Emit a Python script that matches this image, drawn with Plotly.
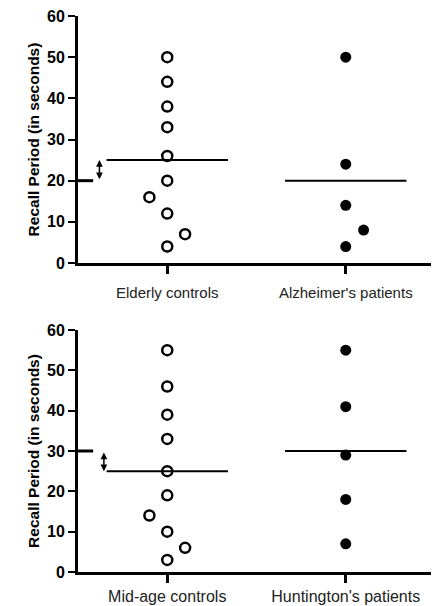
import plotly.graph_objects as go

# ---- data ----
top_categories = ["Elderly controls", "Alzheimer's patients"]
elderly_controls = [50, 44, 38, 33, 26, 20, 16, 12, 7, 4]
alzheimers_patients = [50, 24, 14, 8, 4]

bottom_categories = ["Mid-age controls", "Huntington's patients"]
midage_controls = [55, 46, 39, 33, 25, 19, 14, 10, 6, 3]
huntingtons_patients = [55, 41, 29, 18, 7]

y_ticks = [0, 10, 20, 30, 40, 50, 60]

# ---- style (jitter offsets in category units, purely visual) ----
elderly_jitter = [0, 0, 0, 0, 0, 0, -0.1, 0, 0.1, 0]
alz_jitter = [0, 0, 0, 0.1, 0]
midage_jitter = [0, 0, 0, 0, 0, 0, -0.1, 0, 0.1, 0]
hunt_jitter = [0, 0, 0, 0, 0]

FONT = "Liberation Sans, Arial, sans-serif"
OFF = 8  # default page body margin
W, H = 439 - OFF, 606 - OFF
x_dom = [(78 - OFF) / W, (435 - OFF) / W]
top_dom = [1 - (263 - OFF) / H, 1 - (16 - OFF) / H]
bot_dom = [1 - (572 - OFF) / H, 1 - (330 - OFF) / H]

def mean(v):
    return sum(v) / len(v)

fig = go.Figure()

def add_panel(ctrl, ctrl_j, pat, pat_j, xa, ya, arrow_x):
    fig.add_trace(go.Scatter(
        x=[0 + j for j in ctrl_j], y=ctrl, mode="markers",
        marker=dict(symbol="circle-open", size=10, color="black",
                    line=dict(width=2.5, color="black")),
        xaxis=xa, yaxis=ya, showlegend=False, cliponaxis=False))
    fig.add_trace(go.Scatter(
        x=[1 + j for j in pat_j], y=pat, mode="markers",
        marker=dict(symbol="circle", size=11, color="black"),
        xaxis=xa, yaxis=ya, showlegend=False, cliponaxis=False))
    hw = 0.34
    for i, v in enumerate([ctrl, pat]):
        m = mean(v)
        fig.add_trace(go.Scatter(
            x=[i - hw, i + hw], y=[m, m], mode="lines",
            line=dict(color="black", width=2),
            xaxis=xa, yaxis=ya, showlegend=False, hoverinfo="skip"))
    # reference segment at the patients' mean on the y axis
    pm = mean(pat)
    cm = mean(ctrl)
    fig.add_trace(go.Scatter(
        x=[-0.5, -0.415], y=[pm, pm], mode="lines",
        line=dict(color="black", width=3),
        xaxis=xa, yaxis=ya, showlegend=False, hoverinfo="skip"))
    # double-headed arrow between the two means
    fig.add_annotation(
        x=arrow_x, y=cm, ax=arrow_x, ay=pm,
        xref=xa, yref=ya, axref=xa, ayref=ya,
        text="", showarrow=True, arrowhead=2, arrowside="end+start",
        arrowsize=0.9, arrowwidth=1.5, arrowcolor="black", standoff=0,
        startstandoff=0)

add_panel(elderly_controls, elderly_jitter, alzheimers_patients, alz_jitter, "x", "y", -0.38)
add_panel(midage_controls, midage_jitter, huntingtons_patients, hunt_jitter, "x2", "y2", -0.355)

xa_common = dict(range=[-0.5, 1.5], tickmode="array", tickvals=[0, 1],
                 showline=True, linewidth=3, linecolor="black",
                 ticks="outside", ticklen=8, tickwidth=3, tickcolor="black",
                 showgrid=False, zeroline=False, fixedrange=True, automargin=False,
                 ticklabeloverflow="allow",
                 domain=x_dom)
ya_common = dict(range=[0, 60], tickmode="array", tickvals=y_ticks,
                 showline=True, linewidth=3, linecolor="black",
                 ticks="outside", ticklen=7, tickwidth=2, tickcolor="black",
                 showgrid=False, zeroline=False, fixedrange=True, automargin=False,
                 ticklabeloverflow="allow",
                 tickfont=dict(family=FONT, size=16, color="black", weight="bold"),
                 title=dict(text="Recall Period (in seconds)",
                            font=dict(family=FONT, size=15.5, color="black", weight="bold"),
                            standoff=4))

fig.update_layout(
    width=W, height=H,
    margin=dict(l=0, r=0, t=0, b=0),
    paper_bgcolor="white", plot_bgcolor="white",
    xaxis=dict(xa_common, ticktext=top_categories, anchor="y", ticklabelstandoff=6,
               tickfont=dict(family=FONT, size=15, color="#222")),
    yaxis=dict(ya_common, domain=top_dom, anchor="x"),
    xaxis2=dict(xa_common, ticktext=bottom_categories, anchor="y2", ticklabelstandoff=0,
                tickfont=dict(family=FONT, size=16, color="#222")),
    yaxis2=dict(ya_common, domain=bot_dom, anchor="x2"),
)

fig.write_html("out.html")
